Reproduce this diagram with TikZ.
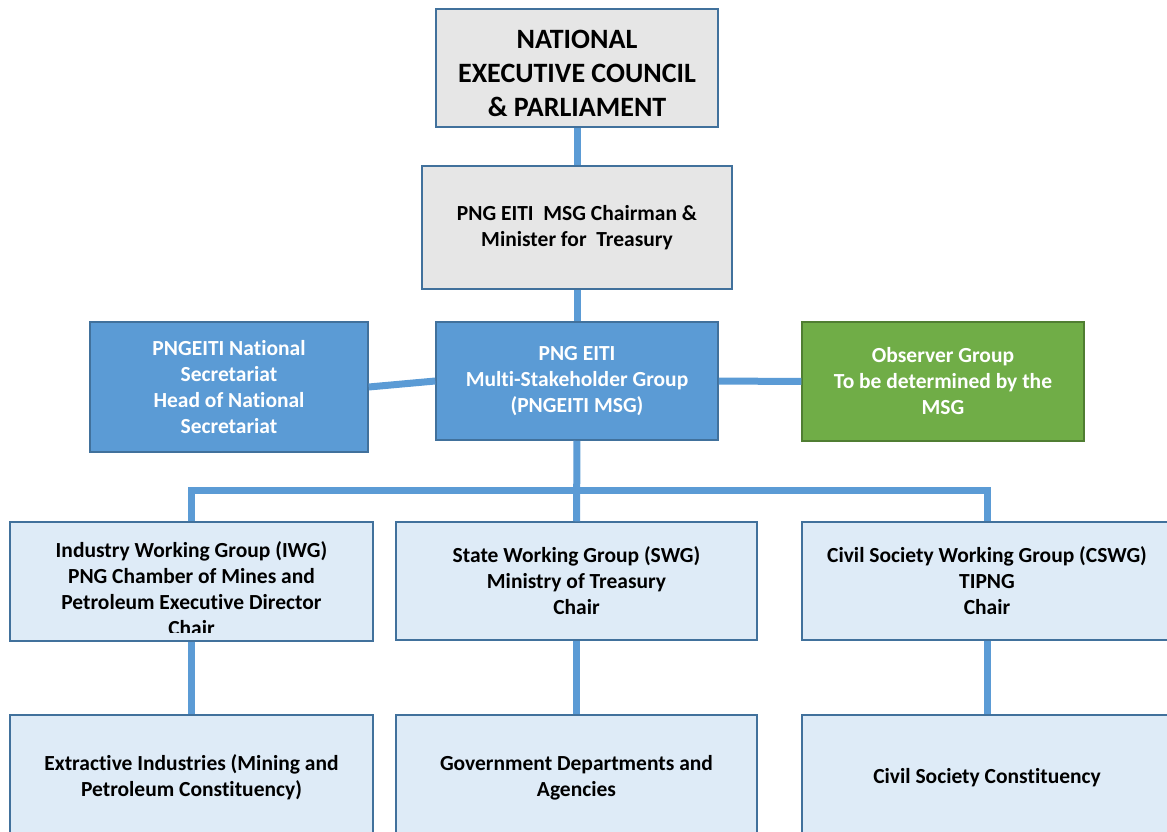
\documentclass[tikz,border=0pt]{standalone}
\usepackage{fontspec}
\setmainfont{Carlito}[Ligatures=NoCommon]
\usetikzlibrary{positioning}

\definecolor{linkblue}{HTML}{5B9BD5}
\definecolor{edgeblue}{HTML}{41719C}
\definecolor{boxgrey}{HTML}{E6E6E6}
\definecolor{boxlight}{HTML}{DEEBF7}
\definecolor{obsgreen}{HTML}{70AD47}
\definecolor{obsedge}{HTML}{507E32}

\tikzset{
  box/.style={draw=edgeblue, line width=1.5pt, align=center, inner sep=0pt,
    font=\bfseries\fontsize{21.5}{26}\selectfont},
  greybox/.style={box, fill=boxgrey},
  bluebox/.style={box, fill=linkblue, text=white},
  greenbox/.style={box, fill=obsgreen, draw=obsedge, text=white},
  lightbox/.style={box, fill=boxlight},
  link/.style={draw=linkblue, line width=7pt},
}

\begin{document}
\begin{tikzpicture}[x=1pt, y=-1pt]
  \useasboundingbox (0,0) rectangle (1167,832);

  % top of the chart
  \node [greybox, minimum width=282, minimum height=118] (nec) at (577, 68) {};
  \node [align=center, inner sep=0pt, font=\bfseries\fontsize{28}{34}\selectfont]
        (nectext) at (577, 73) {NATIONAL\\EXECUTIVE COUNCIL\\\& PARLIAMENT};
  \node [greybox, minimum width=310, minimum height=123] (chair) at (577, 227.5)
        {PNG EITI\ \ MSG Chairman \&\\Minister for\ \ Treasury};

  % MSG row
  \node [bluebox, minimum width=282, minimum height=118] (msg) at (577, 381)
        {PNG EITI\\Multi-Stakeholder Group\\(PNGEITI MSG)};
  \node [bluebox, minimum width=278, minimum height=130] (sec) at (229, 387)
        {PNGEITI National\\Secretariat\\Head of National\\Secretariat};
  \node [greenbox, minimum width=282, minimum height=119] (obs) at (943, 381.5)
        {Observer Group\\To be determined by the\\MSG};

  % working groups
  \node [lightbox, minimum width=363, minimum height=119] (iwg) at (191.5, 581.5) {};
  \begin{scope}
    \clip (10, 522) rectangle (373, 632);
    \node [box, draw=none] (iwgtext) at (191.5, 589)
          {Industry Working Group (IWG)\\PNG Chamber of Mines and\\Petroleum Executive Director\\Chair};
  \end{scope}
  \node [lightbox, minimum width=361, minimum height=118] (swg) at (576.5, 581)
        {State Working Group (SWG)\\Ministry of Treasury\\Chair};
  \node [lightbox, minimum width=370, minimum height=118] (cswg) at (987, 581)
        {Civil Society Working Group (CSWG)\\TIPNG\\Chair};

  % constituencies
  \node [lightbox, minimum width=363, minimum height=125] (iwgc) at (191.5, 777.5)
        {Extractive Industries (Mining and\\Petroleum Constituency)};
  \node [lightbox, minimum width=361, minimum height=125] (swgc) at (576.5, 777.5)
        {Government Departments and\\Agencies};
  \node [lightbox, minimum width=370, minimum height=125] (cswgc) at (987, 777.5)
        {Civil Society Constituency};

  \coordinate (bar) at (577, 490);

  \draw [link] (nec) -- (chair);
  \draw [link] (chair) -- (msg);
  \draw [link] (sec.east) -- (msg.west);
  \draw [link] (msg) -- (obs);
  \draw [link] (msg) -- (swg);
  \draw [link] (iwg.north) |- (bar) -| (cswg.north);
  \draw [link] (iwg) -- (iwgc);
  \draw [link] (swg) -- (swgc);
  \draw [link] (cswg) -- (cswgc);
\end{tikzpicture}
\end{document}
